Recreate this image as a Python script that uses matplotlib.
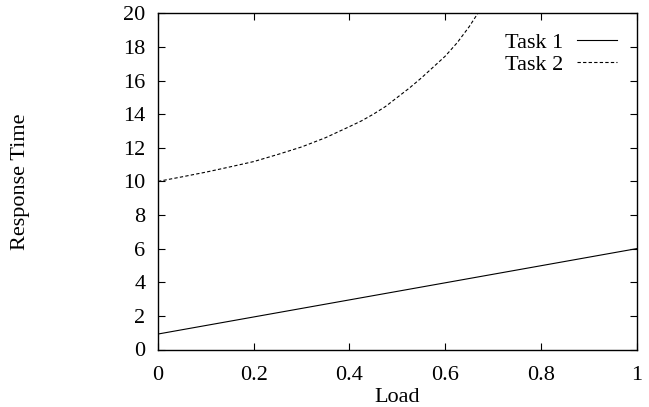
import matplotlib
matplotlib.use("Agg")
import matplotlib.pyplot as plt

load_task1 = [0.0, 1.0]
resp_task1 = [0.92, 6.0]

load_task2 = [0.0, 0.05, 0.1, 0.15, 0.2, 0.25, 0.3, 0.35, 0.4, 0.425, 0.45, 0.475, 0.5,
              0.525, 0.55, 0.575, 0.6, 0.625, 0.65, 0.675]
resp_task2 = [10.0, 10.27, 10.55, 10.86, 11.18, 11.6, 12.05, 12.6, 13.26, 13.6, 14.0, 14.45, 15.0,
              15.55, 16.15, 16.8, 17.45, 18.25, 19.2, 20.3]

x_ticks = [0, 0.2, 0.4, 0.6, 0.8, 1]
x_tick_labels = ["0", "0.2", "0.4", "0.6", "0.8", "1"]
y_ticks = list(range(0, 21, 2))

plt.rcParams['font.family'] = ['Liberation Serif', 'DejaVu Serif']
plt.rcParams['font.size'] = 16

fig = plt.figure(figsize=(6.49, 4.07), dpi=100)
ax = fig.add_axes([158/649, 1-349.5/407, (636.7-158)/649, (349.5-13.3)/407])

ax.plot(load_task1, resp_task1, color='black', lw=0.8, label='Task 1')
ax.plot(load_task2, resp_task2, color='black', lw=0.8, ls=(0, (3, 2)), label='Task 2')

ax.set_xlim(0, 1)
ax.set_ylim(0, 20)
ax.set_xticks(x_ticks)
ax.set_xticklabels(x_tick_labels)
ax.set_yticks(y_ticks)
ax.tick_params(direction='in', top=True, right=True, length=5, width=0.8)
ax.tick_params(axis='y', pad=9)
ax.tick_params(axis='x', pad=12)
for s in ax.spines.values():
    s.set_linewidth(1.0)

ax.set_xlabel('Load', labelpad=2)
fig.text(21/649, 1-182/407, 'Response Time', rotation=90, ha='center', va='center', fontsize=16)

leg = ax.legend(loc='upper right', frameon=False, markerfirst=False, handlelength=1.8,
                handletextpad=0.63, labelspacing=0.08, borderaxespad=0.0, borderpad=0.0,
                bbox_to_anchor=(617/649, 1-32/407), bbox_transform=fig.transFigure)

fig.savefig('out.png', dpi=100)
